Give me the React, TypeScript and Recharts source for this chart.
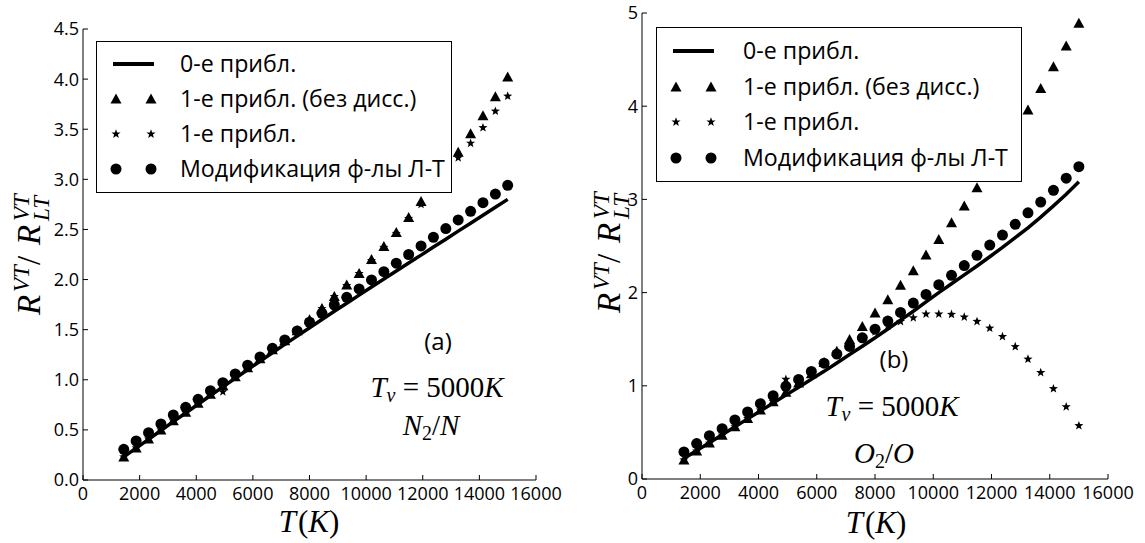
import React from 'react';
import { ComposedChart, Line, Scatter, XAxis, YAxis, Legend } from 'recharts';

// temperature grid, K
const temps = [1440, 1877, 2315, 2752, 3190, 3627, 4065, 4502, 4940, 5377, 5815, 6252, 6690, 7127, 7565, 8002,
  8440, 8877, 9315, 9752, 10190, 10627, 11065, 11502, 11940, 12377, 12815, 13252, 13690, 14127, 14565, 15000];

// (a) N2/N
const n2Zero = [0.23, 0.318, 0.406, 0.494, 0.582, 0.669, 0.756, 0.843, 0.929, 1.015, 1.1, 1.185, 1.269, 1.353, 1.436, 1.519,
  1.601, 1.683, 1.764, 1.845, 1.925, 2.005, 2.085, 2.165, 2.244, 2.324, 2.403, 2.483, 2.562, 2.642, 2.721, 2.8];
const n2NoDiss = [0.23, 0.32, 0.41, 0.5, 0.59, 0.675, 0.765, 0.855, 0.94, 1.03, 1.12, 1.21, 1.3, 1.39, 1.49, 1.6,
  1.71, 1.83, 1.945, 2.06, 2.2, 2.33, 2.47, 2.62, 2.78, 2.95, 3.11, 3.27, 3.455, 3.635, 3.825, 4.02];
const n2First = [0.23, 0.32, 0.41, 0.5, 0.59, 0.675, 0.765, 0.855, 0.88, 1.03, 1.12, 1.21, 1.3, 1.39, 1.49, 1.6,
  1.71, 1.83, 1.94, 2.06, 2.19, 2.32, 2.46, 2.61, 2.75, 2.9, 3.05, 3.215, 3.36, 3.515, 3.68, 3.83];
const n2Modif = [0.306, 0.389, 0.472, 0.559, 0.649, 0.725, 0.805, 0.891, 0.971, 1.058, 1.145, 1.228, 1.314, 1.397, 1.487, 1.574,
  1.663, 1.746, 1.823, 1.906, 1.996, 2.079, 2.163, 2.25, 2.336, 2.422, 2.509, 2.595, 2.681, 2.767, 2.853, 2.94];

// (b) O2/O
const o2Zero = [0.22, 0.305, 0.39, 0.475, 0.56, 0.645, 0.73, 0.815, 0.9, 0.985, 1.07, 1.155, 1.245, 1.335, 1.425, 1.515,
  1.61, 1.705, 1.8, 1.9, 2.0, 2.095, 2.19, 2.285, 2.385, 2.485, 2.59, 2.695, 2.81, 2.93, 3.055, 3.19];
const o2NoDiss = [0.205, 0.3, 0.385, 0.47, 0.56, 0.65, 0.74, 0.83, 0.93, 1.03, 1.13, 1.25, 1.37, 1.496, 1.636, 1.78,
  1.924, 2.08, 2.234, 2.403, 2.57, 2.75, 2.93, 3.126, 3.334, 3.542, 3.75, 3.959, 4.19, 4.424, 4.646, 4.89];
const o2First = [0.205, 0.3, 0.385, 0.47, 0.56, 0.65, 0.74, 0.83, 1.07, 1.03, 1.13, 1.24, 1.33, 1.44, 1.52, 1.58,
  1.64, 1.69, 1.73, 1.77, 1.77, 1.766, 1.738, 1.69, 1.618, 1.528, 1.42, 1.286, 1.142, 0.969, 0.775, 0.572];
const o2Modif = [0.29, 0.38, 0.465, 0.54, 0.633, 0.719, 0.808, 0.894, 0.994, 1.068, 1.154, 1.243, 1.34, 1.422, 1.515, 1.608,
  1.694, 1.787, 1.888, 1.98, 2.085, 2.185, 2.29, 2.4, 2.51, 2.617, 2.733, 2.856, 2.971, 3.098, 3.228, 3.351];

const xTicks = [0, 2000, 4000, 6000, 8000, 10000, 12000, 14000, 16000];
const n2Ticks = [0, 0.5, 1, 1.5, 2, 2.5, 3, 3.5, 4, 4.5];
const o2Ticks = [0, 1, 2, 3, 4, 5];
const legendLabels = ['0-е прибл.', '1-е прибл. (без дисс.)', '1-е прибл.', 'Модификация ф-лы Л-Т'];

const sans = "'Open Sans', sans-serif";
const serif = "'Liberation Serif', serif";
const tickFont = { fontSize: 18, fill: '#000', fontFamily: sans };

function starPath(cx: number, cy: number, R: number, r: number) {
  let d = '';
  for (let i = 0; i < 10; i++) {
    const a = -Math.PI / 2 + (i * Math.PI) / 5;
    const rad = i % 2 === 0 ? R : r;
    d += (i === 0 ? 'M' : 'L') + (cx + rad * Math.cos(a)).toFixed(2) + ',' + (cy + rad * Math.sin(a)).toFixed(2);
  }
  return d + 'Z';
}

const TriMark = (p: any) => p.cx == null ? null :
  <path d={`M${p.cx},${p.cy - 5.5}L${p.cx + 5.5},${p.cy + 4.5}L${p.cx - 5.5},${p.cy + 4.5}Z`} fill="#000" />;
const StarMark = (p: any) => p.cx == null ? null : <path d={starPath(p.cx, p.cy, 4.8, 2)} fill="#000" />;
const DotMark = (p: any) => p.cx == null ? null : <circle cx={p.cx} cy={p.cy} r={5.5} fill="#000" />;

function LegendBox({ width, height, rowH, padTop, textX }: any) {
  const marks = [
    <line x1={16} x2={57} y1={10} y2={10} stroke="#000" strokeWidth={4} />,
    <g><TriMark cx={19} cy={10} /><TriMark cx={54} cy={10} /></g>,
    <g><StarMark cx={19} cy={10} /><StarMark cx={54} cy={10} /></g>,
    <g><DotMark cx={19} cy={10} /><DotMark cx={54} cy={10} /></g>,
  ];
  return <div style={{ boxSizing: 'border-box', width, height, border: '1px solid #000', background: '#fff', paddingTop: padTop }}>
      {legendLabels.map((lab, i) => <div key={i} style={{ position: 'relative', height: rowH }}>
          <svg width={70} height={20} style={{ position: 'absolute', left: 0, top: rowH / 2 - 10 }}>{marks[i]}</svg>
          <span style={{ position: 'absolute', left: textX, top: 0, lineHeight: `${rowH}px`, fontFamily: sans, fontSize: 23.2, color: '#000', whiteSpace: 'nowrap' }}>{lab}</span>
        </div>)}
    </div>;
}

function Panel({ zero, noDiss, first, modif, yTicks, fmt, width, margin, legend }: any) {
  const data = temps.map((t, i) => ({ t, zero: zero[i], noDiss: noDiss[i], first: first[i], modif: modif[i] }));
  const yMax = yTicks[yTicks.length - 1];
  return <ComposedChart width={width} height={543} data={data} margin={margin}>
      <XAxis dataKey="t" type="number" domain={[0, 16000]} ticks={xTicks} allowDataOverflow
        height={30} tickSize={-5} tickMargin={12} stroke="#000" tick={tickFont} interval={0} />
      <XAxis xAxisId="top" orientation="top" type="number" domain={[0, 16000]} ticks={xTicks} allowDataOverflow
        height={0} tickSize={-5} tick={false} stroke="#000" />
      <YAxis type="number" domain={[0, yMax]} ticks={yTicks} allowDataOverflow width={40} tickSize={-5} tickMargin={9}
        stroke="#000" tick={tickFont} tickFormatter={fmt} interval={0} />
      <YAxis yAxisId="right" orientation="right" type="number" domain={[0, yMax]} ticks={yTicks} allowDataOverflow
        width={0} tickSize={-5} tick={false} stroke="#000" />
      <Line dataKey="zero" name={legendLabels[0]} type="linear" stroke="#000" strokeWidth={3.5} dot={false} isAnimationActive={false} />
      <Scatter dataKey="noDiss" name={legendLabels[1]} shape={TriMark} isAnimationActive={false} />
      <Scatter dataKey="first" name={legendLabels[2]} shape={StarMark} isAnimationActive={false} />
      <Scatter dataKey="modif" name={legendLabels[3]} shape={DotMark} isAnimationActive={false} />
      <Legend layout="vertical" align="center" verticalAlign="middle"
        wrapperStyle={{ left: legend.left, top: legend.top, width: legend.width, height: legend.height }}
        content={() => <LegendBox {...legend} />} />
    </ComposedChart>;
}

function YLabel({ x, y }: { x: number; y: number }) {
  // rotated R^{VT}/R^{VT}_{LT}
  return <g transform={`translate(${x},${y}) rotate(-90)`} fontFamily={serif} fill="#000">
      <text x={0} y={0} fontSize={33} fontStyle="italic">R</text>
      <text x={23} y={-11} fontSize={23} fontStyle="italic">VT</text>
      <text x={50} y={0} fontSize={33}>/</text>
      <text x={70} y={0} fontSize={33} fontStyle="italic">R</text>
      <text x={94} y={-11} fontSize={23} fontStyle="italic">VT</text>
      <text x={94} y={9} fontSize={23} fontStyle="italic">LT</text>
    </g>;
}

function XLabel({ x, y }: { x: number; y: number }) {
  return <text x={x} y={y} textAnchor="middle" fontFamily={serif} fontSize={31} fill="#000">
      <tspan fontStyle="italic">T</tspan><tspan dx={2}>(</tspan><tspan fontStyle="italic">K</tspan><tspan>)</tspan>
    </text>;
}

function Tv({ x, y }: { x: number; y: number }) {
  return <text x={x} y={y} textAnchor="middle" fontFamily={serif} fontSize={29} fill="#000">
      <tspan fontStyle="italic">T</tspan><tspan fontSize={20} fontStyle="italic" dy={5}>v</tspan>
      <tspan dy={-5}> = 5000</tspan><tspan fontStyle="italic">K</tspan>
    </text>;
}

function Species({ x, y, s }: { x: number; y: number; s: string }) {
  return <text x={x} y={y} textAnchor="middle" fontFamily={serif} fontSize={29} fill="#000">
      <tspan fontStyle="italic">{s}</tspan><tspan fontSize={20} dy={5}>2</tspan>
      <tspan dy={-5}>/</tspan><tspan fontStyle="italic">{s}</tspan>
    </text>;
}

export default function App() {
  return <div style={{ position: 'absolute', left: 0, top: 0, width: 1145, height: 543, background: '#fff', overflow: 'hidden' }}>
      <div style={{ position: 'absolute', left: 0, top: 0 }}>
        <Panel zero={n2Zero} noDiss={n2NoDiss} first={n2First} modif={n2Modif} yTicks={n2Ticks}
          fmt={(v: number) => v.toFixed(1)} width={600}
          margin={{ top: 29, right: 64, bottom: 33, left: 43 }}
          legend={{ left: 96, top: 41, width: 356, height: 152, rowH: 35, padTop: 4, textX: 83 }} />
      </div>
      <div style={{ position: 'absolute', left: 560, top: 0 }}>
        <Panel zero={o2Zero} noDiss={o2NoDiss} first={o2First} modif={o2Modif} yTicks={o2Ticks}
          fmt={(v: number) => String(v)} width={585}
          margin={{ top: 13, right: 37, bottom: 34, left: 42 }}
          legend={{ left: 96, top: 27, width: 366, height: 155, rowH: 35.7, padTop: 5, textX: 86 }} />
      </div>
      <svg width={1145} height={543} style={{ position: 'absolute', left: 0, top: 0, pointerEvents: 'none' }}>
        <YLabel x={40} y={315} />
        <YLabel x={620} y={313} />
        <XLabel x={309} y={532} />
        <XLabel x={876} y={533} />
        <text x={438} y={350} textAnchor="middle" fontFamily={sans} fontSize={24} fill="#000">(a)</text>
        <text x={894} y={368} textAnchor="middle" fontFamily={sans} fontSize={24} fill="#000">(b)</text>
        <Tv x={437} y={397} />
        <Species x={431} y={435} s="N" />
        <Tv x={892} y={416} />
        <Species x={884} y={463} s="O" />
      </svg>
    </div>;
}
